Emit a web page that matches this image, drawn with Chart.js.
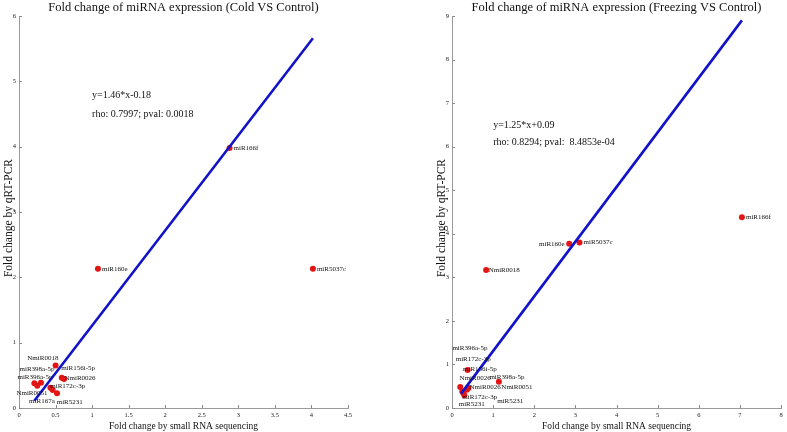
<!DOCTYPE html>
<html>
<head>
<meta charset="utf-8">
<title>Fold change of miRNA expression</title>
<script src="https://cdn.jsdelivr.net/npm/chart.js@4.4.1/dist/chart.umd.min.js"></script>
<style>
    html, body { margin: 0; padding: 0; background: #fff; }
    #wrap { position: relative; width: 787px; height: 432px; overflow: hidden; }
    .panel { position: absolute; top: 0; }
</style>
</head>
<body>
<div id="wrap">
    <div class="panel" style="left:0"><canvas id="coldChart" width="393" height="432"></canvas></div>
    <div class="panel" style="left:393px"><canvas id="freezeChart" width="394" height="432"></canvas></div>
</div>
<script>
// 🔹 Cold VS Control
const coldNames = ["miR166f", "miR160e", "miR5037c", "NmiR0018", "miR156i-5p", "NmiR0026",
    "miR398a-5p", "NmiR0051", "miR396a-5p", "miR172c-3p", "miR167a", "miR5231"];
const coldSeq = [2.88, 1.08, 4.02, 0.50, 0.585, 0.616, 0.21, 0.25, 0.30, 0.43, 0.46, 0.52];
const coldPcr = [3.98, 2.13, 2.13, 0.65, 0.464, 0.444, 0.378, 0.342, 0.387, 0.311, 0.276, 0.225];
const coldFitX = [0.21, 4.02];
const coldFitY = [0.11, 5.66];
const coldXTicks = [0, 0.5, 1, 1.5, 2, 2.5, 3, 3.5, 4, 4.5];
const coldYTicks = [0, 1, 2, 3, 4, 5, 6];
const coldNotes = ["y=1.46*x-0.18", "rho: 0.7997; pval: 0.0018"];

// 🔹 Freezing VS Control
const freezeSeq = [7.05, 2.85, 3.10, 0.83, 0.38, 1.14, 0.20, 0.40, 0.36, 0.27, 0.30, 0.25];
const freezePcr = [4.38, 3.77, 3.80, 3.17, 0.87, 0.60, 0.48, 0.46, 0.42, 0.35, 0.29, 0.38];
const freezeLabelText = ["miR166f", "miR160e", "miR5037c", "NmiR0018", "miR396a-5p", "miR172c-3p",
    "miR156i-5p", "NmiR0026", "miR398a-5p", "NmiR0026", "NmiR0051", "miR172c-3p", "miR5231", "miR5231"];
const freezeFitX = [0.22, 7.05];
const freezeFitY = [0.33, 8.90];
const freezeXTicks = [0, 1, 2, 3, 4, 5, 6, 7, 8];
const freezeYTicks = [0, 1, 2, 3, 4, 5, 6, 7, 8, 9];
const freezeNotes = ["y=1.25*x+0.09", "rho: 0.8294; pval:  8.4853e-04"];

// label placement: [point index, dx, dy, align]
const coldLabelPlace = [
    [0, 4, 0, "left"], [1, 4, 0, "left"], [2, 4, 0, "left"],
    [3, -12.7, -7.7, "center"], [4, 16.3, -9.7, "center"], [5, 16, -1, "center"],
    [6, 2.7, -14.3, "center"], [7, -5.3, 7.3, "center"], [8, -6, -5.7, "center"],
    [9, 17.3, -1.7, "center"], [10, -10.7, 11, "center"], [11, 12.7, 8.7, "center"]
];
const freezeLabelPlace = [
    [0, 4, 0, "left"], [1, -4.5, 0, "right"], [2, 4, 0, "left"], [3, 2.5, 0, "left"],
    [6, 9.7, -39.4, "center"], [6, 13, -28.4, "center"], [4, 12.3, -1.4, "center"],
    [7, 6.7, -10, "center"], [5, 8, -5, "center"], [8, 18.3, -2.7, "center"],
    [5, 18, 5, "center"], [9, 16.7, 4.4, "center"], [10, 7.4, 8.3, "center"], [5, 11.3, 19.4, "center"]
];

const SERIF = "'Liberation Serif', 'DejaVu Serif', serif";

// 🔹 Draws tick marks, point labels, notes and titles
const overlay = {
    id: "overlay",
    afterDraw(chart) {
        const o = chart.options.plugins.overlay;
        const ctx = chart.ctx;
        const xs = chart.scales.x, ys = chart.scales.y, area = chart.chartArea;
        ctx.save();

        // inward tick marks
        ctx.strokeStyle = "#8a8a8a";
        ctx.lineWidth = 1;
        ctx.beginPath();
        xs.ticks.forEach(t => {
            let px = Math.round(xs.getPixelForValue(t.value)) + 0.5;
            ctx.moveTo(px, area.bottom);
            ctx.lineTo(px, area.bottom - 3);
        });
        ys.ticks.forEach(t => {
            let py = Math.round(ys.getPixelForValue(t.value)) + 0.5;
            ctx.moveTo(area.left, py);
            ctx.lineTo(area.left + 3, py);
        });
        ctx.stroke();

        // point labels
        let meta = chart.getDatasetMeta(0);
        ctx.fillStyle = "#111";
        ctx.font = "7px " + SERIF;
        ctx.textBaseline = "middle";
        o.place.forEach((p, i) => {
            let el = meta.data[p[0]];
            ctx.textAlign = p[3];
            ctx.fillText(o.labels[i], el.x + p[1], el.y + p[2]);
        });

        // fit notes
        ctx.font = "10px " + SERIF;
        ctx.textAlign = "left";
        o.notes.forEach((txt, i) => {
            ctx.fillText(txt, xs.getPixelForValue(o.noteX), ys.getPixelForValue(o.noteY[i]));
        });

        // titles
        let cx = (area.left + area.right) / 2;
        ctx.textAlign = "center";
        ctx.font = "12.5px " + SERIF;
        ctx.fillText(o.title, cx, 8);
        ctx.font = "9.5px " + SERIF;
        ctx.fillText("Fold change by small RNA sequencing", cx, 426);
        ctx.save();
        ctx.translate(o.yTitleX, 218);
        ctx.rotate(-Math.PI / 2);
        ctx.font = "11.5px " + SERIF;
        ctx.fillText("Fold change by qRT-PCR", 0, 0);
        ctx.restore();

        ctx.restore();
    }
};

function makeChart(id, c) {
    let points = c.seq.map((v, i) => ({ x: v, y: c.pcr[i] }));
    let fit = c.fitX.map((v, i) => ({ x: v, y: c.fitY[i] }));
    let axis = (ticks, size) => ({
        type: "linear",
        min: ticks[0],
        max: ticks[ticks.length - 1],
        afterBuildTicks: s => { s.ticks = ticks.map(v => ({ value: v })); },
        afterFit: size,
        grid: { display: false, drawTicks: false },
        border: { display: true, color: "#9a9a9a", width: 1 },
        ticks: {
            padding: 3,
            color: "#222",
            font: { family: SERIF, size: 6.5 },
            callback: v => String(v)
        }
    });
    return new Chart(document.getElementById(id).getContext("2d"), {
        type: "scatter",
        data: {
            datasets: [{
                data: points,
                backgroundColor: "#e31414",
                borderWidth: 0,
                pointRadius: 3,
                order: 1
            }, {
                type: "line",
                data: fit,
                borderColor: "#1212c8",
                borderWidth: 2.6,
                pointRadius: 0,
                fill: false,
                order: 0
            }]
        },
        options: {
            responsive: false,
            animation: false,
            layout: { padding: { top: 16, right: c.padRight, left: 0, bottom: 0 } },
            scales: {
                x: axis(c.xTicks, s => { s.height = 24; }),
                y: axis(c.yTicks, s => { s.width = c.yWidth; })
            },
            plugins: {
                legend: { display: false },
                tooltip: { enabled: false },
                overlay: {
                    labels: c.labels, place: c.place, notes: c.notes,
                    noteX: 1, noteY: c.noteY, title: c.title, yTitleX: c.yTitleX
                }
            }
        },
        plugins: [overlay]
    });
}

makeChart("coldChart", {
    seq: coldSeq, pcr: coldPcr, fitX: coldFitX, fitY: coldFitY,
    xTicks: coldXTicks, yTicks: coldYTicks,
    labels: coldNames, place: coldLabelPlace, notes: coldNotes, noteY: [4.78, 4.49],
    title: "Fold change of miRNA expression (Cold VS Control)",
    padRight: 45, yWidth: 19, yTitleX: 9
});

makeChart("freezeChart", {
    seq: freezeSeq, pcr: freezePcr, fitX: freezeFitX, fitY: freezeFitY,
    xTicks: freezeXTicks, yTicks: freezeYTicks,
    labels: freezeLabelText, place: freezeLabelPlace, notes: freezeNotes, noteY: [6.5, 6.1],
    title: "Fold change of miRNA expression (Freezing VS Control)",
    padRight: 6, yWidth: 59, yTitleX: 49
});
</script>
</body>
</html>
